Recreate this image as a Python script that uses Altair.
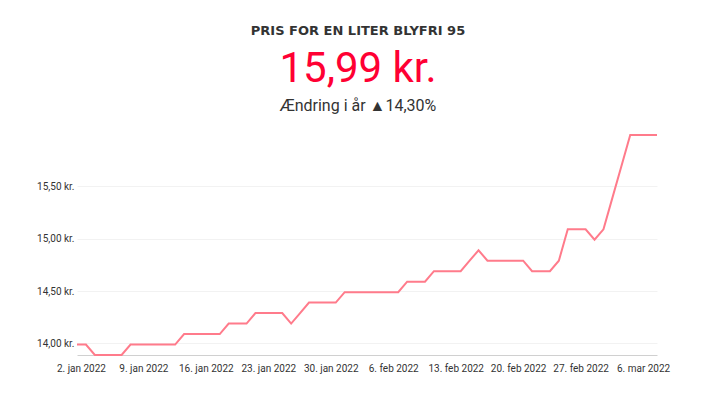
import altair as alt
import pandas as pd

# Daily prices, 1 Jan 2022 .. 7 Mar 2022
start_date = "2022-01-01"
prices = (
    [13.99, 13.99]
    + [13.89] * 4
    + [13.99] * 6
    + [14.09] * 5
    + [14.19] * 3
    + [14.29] * 4
    + [14.19, 14.29]
    + [14.39] * 4
    + [14.49] * 7
    + [14.59] * 3
    + [14.69] * 4
    + [14.79, 14.89]
    + [14.79] * 5
    + [14.69] * 3
    + [14.79]
    + [15.09] * 3
    + [14.99, 15.09, 15.39, 15.69]
    + [15.99] * 4
)
dates = pd.date_range(start_date, periods=len(prices), freq="D").strftime("%Y-%m-%d").tolist()

y_ticks = [14.0, 14.5, 15.0, 15.5]
x_tick_days = [(1, 2), (1, 9), (1, 16), (1, 23), (1, 30), (2, 6), (2, 13), (2, 20), (2, 27), (3, 6)]

title_text = "PRIS FOR EN LITER BLYFRI 95"
big_text = "15,99 kr."
sub_text = "Ændring i år ▲14,30%"

FONT = "Roboto"

df = pd.DataFrame({"date": dates, "price": prices})

line = alt.Chart(df).mark_line(color="#ff7b8b", strokeWidth=2, clip=False).encode(
    x=alt.X(
        "date:T",
        scale=alt.Scale(type="utc", nice=False),
        axis=alt.Axis(
            title=None,
            values=[alt.DateTime(year=2022, month=m, date=d, utc=True) for m, d in x_tick_days],
            labelExpr="lower(utcFormat(datum.value, '%-d. %b %Y'))",
            grid=False,
            ticks=False,
            domain=True,
            domainColor="#d0d0d0",
            labelFont=FONT,
            labelFontSize=10,
            labelColor="#333333",
            labelPadding=8,
            labelOffset=-5,
            labelOverlap=False,
        ),
    ),
    y=alt.Y(
        "price:Q",
        scale=alt.Scale(domain=[13.89, 15.99], nice=False, zero=False),
        axis=alt.Axis(
            title=None,
            values=y_ticks,
            labelExpr="replace(format(datum.value, '.2f'), '.', ',') + ' kr.'",
            grid=True,
            gridColor="#f2f2f2",
            ticks=False,
            domain=False,
            labelFont=FONT,
            labelFontSize=10,
            labelColor="#333333",
            labelPadding=3,
        ),
    ),
)

def header(text, y, size, weight, color, font):
    return alt.Chart(pd.DataFrame({"t": [text]})).mark_text(
        font=font, fontSize=size, fontWeight=weight, color=color,
        align="center", baseline="alphabetic",
    ).encode(text="t:N", x=alt.value(281), y=alt.value(y))

chart = alt.layer(
    line,
    header(title_text, -100, 13, "bold", "#333333", "DejaVu Sans"),
    header(big_text, -53, 42, "normal", "#ff0033", FONT),
    header(sub_text, -24, 16, "normal", "#333333", FONT),
).properties(
    width=580,
    height=220,
    autosize=alt.AutoSizeParams(type="none"),
    padding={"left": 69, "top": 127, "right": 37, "bottom": 30},
).configure_view(stroke=None)

chart.save("out.html", embed_options={"renderer": "svg", "actions": False})
